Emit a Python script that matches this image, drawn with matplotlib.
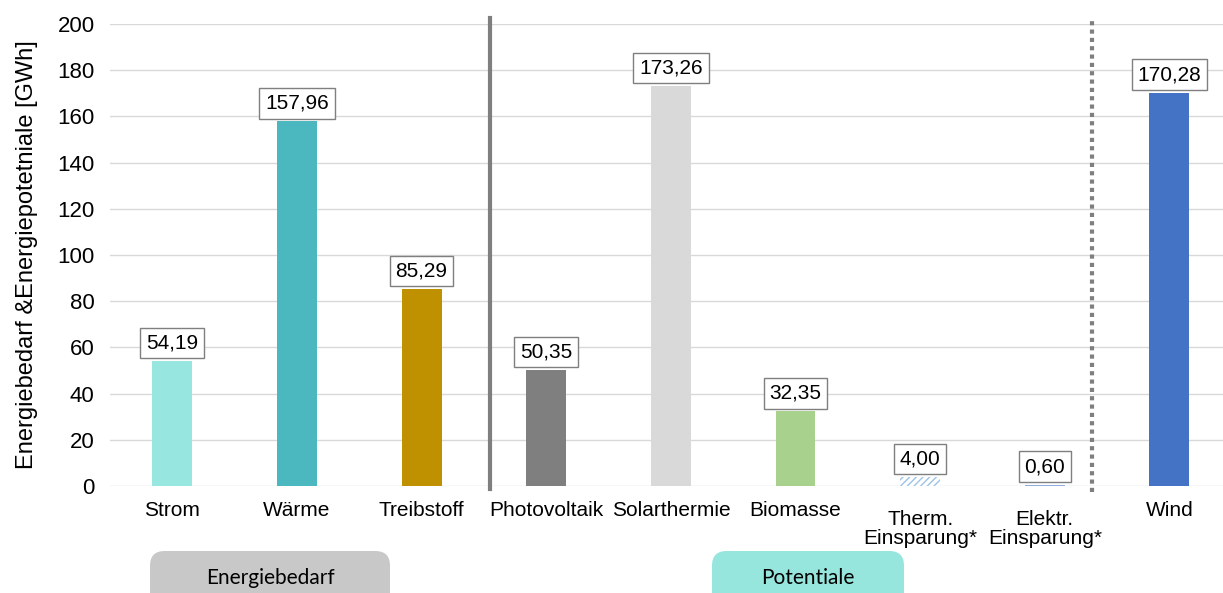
import matplotlib.pyplot as plt
from matplotlib.patches import FancyBboxPatch
import numpy as np

plt.rcParams['font.family'] = ['Liberation Sans', 'DejaVu Sans']

labels = ['Strom', 'Wärme', 'Treibstoff', 'Photovoltaik', 'Solarthermie',
          'Biomasse', 'Therm.\nEinsparung*', 'Elektr.\nEinsparung*', 'Wind']
values = [54.19, 157.96, 85.29, 50.35, 173.26, 32.35, 4.00, 0.60, 170.28]
colors = ['#97E6E0', '#4BB8C0', '#BF9000', '#7F7F7F', '#D9D9D9',
          '#A9D18E', '#FFFFFF', '#8FAADC', '#4472C4']
groups = ['Energiebedarf', 'Potentiale']

x = np.arange(len(labels))

fig = plt.figure(figsize=(12.23, 5.93), dpi=100)
ax = fig.add_axes([110 / 1223, (593 - 486) / 593, 1113 / 1223, 462 / 593])

bars = ax.bar(x, values, 0.32, color=colors, zorder=3)
# hatched bar for thermal savings
bars[6].set_hatch('/////')
bars[6].set_edgecolor('#9DC3E6')
bars[6].set_linewidth(0)

for b, v in zip(bars, values):
    ax.annotate(f'{v:.2f}'.replace('.', ','), (b.get_x() + b.get_width() / 2, v),
                xytext=(0, 6), textcoords='offset points', ha='center', va='bottom',
                fontsize=15, zorder=5,
                bbox=dict(boxstyle='square,pad=0.28', fc='white', ec='#7F7F7F', lw=1))

ax.set_xlim(-0.5, 8.43)
ax.set_ylim(0, 200)
ax.set_yticks(np.arange(0, 201, 20))
ax.tick_params(axis='y', length=0, labelsize=16, pad=11)
ax.set_xticks(x)
ax.set_xticklabels([])
ax.tick_params(axis='x', length=0)
for xi, lab in zip(x, labels):
    off = -31 if '\n' in lab else -17.5
    ax.annotate(lab, (xi, 0), xycoords=ax.get_xaxis_transform(), xytext=(0, off),
                textcoords='offset points', ha='center', va='center',
                fontsize=15, linespacing=0.95)
ax.grid(axis='y', color='#D9D9D9', lw=1, zorder=0)
for s in ax.spines.values():
    s.set_visible(False)
ax.set_ylabel('Energiebedarf &Energiepotetniale [GWh]', fontsize=17, labelpad=14)

# group separators
ax.plot([2.55, 2.55], [-1.5, 202.5], color='#7F7F7F', lw=3, clip_on=False, zorder=4)
ax.plot([7.38, 7.38], [-2.5, 202.0], color='#7F7F7F', lw=3, ls=(0, (1, 1)),
        clip_on=False, zorder=4)

# group boxes at the bottom
for (x0, w, fc), name in zip([(150, 240, '#C8C8C8'), (712, 192, '#96E6DE')], groups):
    box = FancyBboxPatch((x0 / 1223, -20 / 593), w / 1223, 62 / 593,
                         boxstyle='round,pad=0,rounding_size=0.012',
                         transform=fig.transFigure, fc=fc, ec='none',
                         mutation_aspect=1223 / 593)
    fig.patches.append(box)
    fig.text((x0 + w / 2) / 1223, 15 / 593, name, ha='center', va='center',
             fontsize=15, family=['Lato', 'DejaVu Sans'])

fig.savefig('out.png', dpi=100)
